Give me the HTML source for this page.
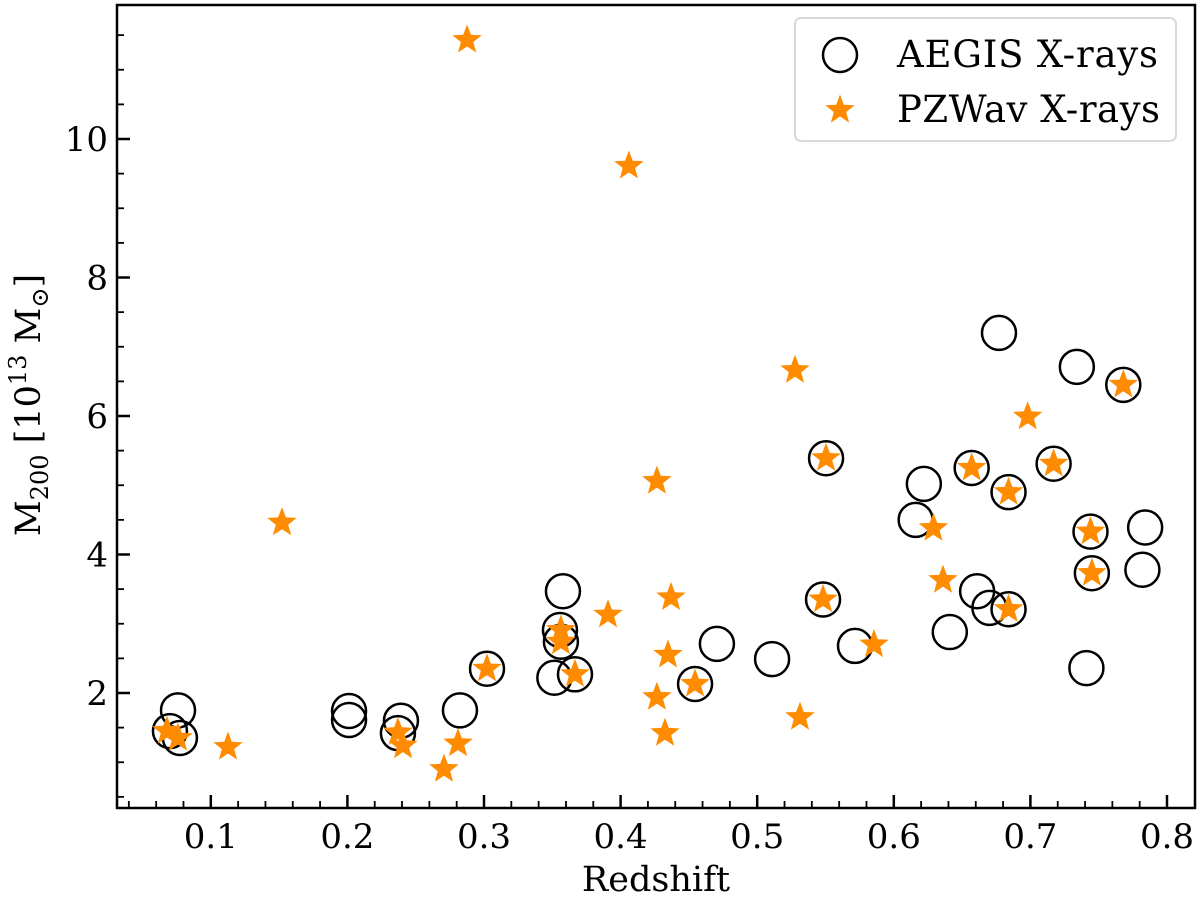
<!DOCTYPE html>
<html><head><meta charset="utf-8"><style>
body{margin:0;background:#fff}
svg text{font-family:"DejaVu Serif","Liberation Serif",serif;fill:#000}
</style></head><body>
<svg id="chart" width="1200" height="903" viewBox="0 0 1200 903">
<g id="ticks"></g>
<g id="marks"></g>
<rect x="117" y="5" width="1078" height="803" fill="none" stroke="#000" stroke-width="2.5"/>
<text x="656" y="891" font-size="35" text-anchor="middle">Redshift</text>
<text transform="translate(40,405) rotate(-90)" font-size="35" text-anchor="middle">M<tspan font-size="24" dy="8">200</tspan><tspan dy="-8"> [10</tspan><tspan font-size="24" dy="-14">13</tspan><tspan dy="14"> M</tspan><tspan font-size="24" dy="8">⊙</tspan><tspan dy="-8">]</tspan></text>
<g>
<rect x="795" y="18" width="381" height="123" rx="6" fill="#fff" stroke="#d9d9d9" stroke-width="2"/>
<circle cx="840" cy="55" r="17" fill="none" stroke="#000" stroke-width="2.5"/>
<text x="897" y="67" font-size="37" textLength="261">AEGIS X-rays</text>
<g id="legstar"></g>
<text x="897" y="122" font-size="37" textLength="263">PZWav X-rays</text>
</g>
</svg>
<script>
const aegisZ=[0.0701,0.076,0.0774,0.2012,0.2012,0.2392,0.2370,0.2824,0.3022,0.3515,0.3578,0.3556,0.3563,0.3666,0.4545,0.4705,0.5109,0.5482,0.5504,0.5716,0.616,0.622,0.641,0.657,0.661,0.670,0.684,0.684,0.677,0.717,0.734,0.741,0.744,0.745,0.768,0.782,0.784];
const aegisM=[1.45,1.75,1.35,1.74,1.61,1.60,1.42,1.75,2.35,2.22,3.47,2.91,2.74,2.27,2.13,2.71,2.49,3.35,5.39,2.68,4.50,5.02,2.88,5.25,3.47,3.23,4.90,3.21,7.20,5.31,6.71,2.36,4.33,3.73,6.45,3.78,4.39];
const pzZ=[0.0679,0.076,0.1126,0.1521,0.2370,0.2407,0.2707,0.281,0.2876,0.3022,0.3563,0.3563,0.3666,0.3908,0.4061,0.4266,0.4266,0.4325,0.4347,0.4369,0.4545,0.5277,0.5313,0.5482,0.5504,0.5855,0.629,0.636,0.657,0.684,0.684,0.698,0.717,0.744,0.745,0.768];
const pzM=[1.45,1.35,1.22,4.46,1.43,1.24,0.90,1.27,11.43,2.35,2.91,2.74,2.27,3.13,9.61,5.06,1.94,1.42,2.55,3.38,2.13,6.66,1.65,3.35,5.39,2.70,4.38,3.63,5.25,4.90,3.21,5.99,5.31,4.33,3.73,6.45];
const xTicks=[0.1,0.2,0.3,0.4,0.5,0.6,0.7,0.8];
const yTicks=[2,4,6,8,10];
const X=z=>1167-(0.8-z)*1366;
const Y=m=>693-(m-2)*69.25;
const NS='http://www.w3.org/2000/svg';
function mk(t,a,p){const e=document.createElementNS(NS,t);for(const k in a)e.setAttribute(k,a[k]);p.appendChild(e);return e;}
function starPts(cx,cy,R){const r=R*0.42;let s=[];for(let i=0;i<10;i++){const a=-Math.PI/2+i*Math.PI/5,rr=i%2?r:R;s.push((cx+rr*Math.cos(a)).toFixed(1)+','+(cy+rr*Math.sin(a)).toFixed(1));}return s.join(' ');}
const tk=document.getElementById('ticks'),mg=document.getElementById('marks');
for(let i=2;i<=40;i++){const z=i/50;const x=X(z);if(x<118||x>1194)continue;const major=i%5===0;
const l=mk('line',{x1:x,x2:x,y1:808,y2:808-(major?13:7),stroke:'#000','stroke-width':major?2.5:1.8},tk);

}
for(let i=1;i<=23;i++){const m=i/2;const y=Y(m);if(y>807||y<6)continue;const major=i%4===0;
const l=mk('line',{x1:117,x2:117+(major?13:7),y1:y,y2:y,stroke:'#000','stroke-width':major?2.5:1.8},tk);

}
xTicks.forEach(v=>{const t=mk('text',{x:X(v),y:848,'font-size':34,'text-anchor':'middle'},tk);t.textContent=v.toFixed(1);

});
yTicks.forEach(v=>{const t=mk('text',{x:108,y:Y(v)+12,'font-size':34,'text-anchor':'end'},tk);t.textContent=v;

});
aegisZ.forEach((z,i)=>{const c=mk('circle',{cx:X(z),cy:Y(aegisM[i]),r:17,fill:'none',stroke:'#000','stroke-width':2.5},mg);

});
pzZ.forEach((z,i)=>{const p=mk('polygon',{points:starPts(X(z),Y(pzM[i]),15.5),fill:'#ff8c00'},mg);

});
mk('polygon',{points:starPts(840,110,15.5),fill:'#ff8c00'},document.getElementById('legstar'));
</script>
</body></html>
